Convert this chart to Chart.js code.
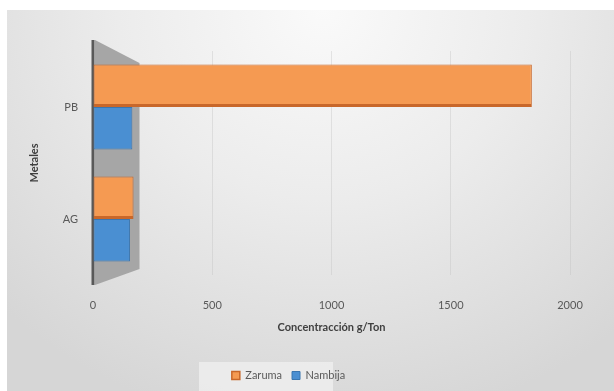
<!DOCTYPE html>
<html>
<head>
<meta charset="utf-8">
<script src="https://cdn.jsdelivr.net/npm/chart.js@4"></script>
<style>
  html, body { margin: 0; padding: 0; background: #fff; }
  #wrap {
    position: absolute; left: 7px; top: 10px; width: 607px; height: 381px;
    background: radial-gradient(ellipse 75% 110% at 52% 0%, #fafafa 0%, #ececec 45%, #d6d6d6 100%);
  }
</style>
</head>
<body>
<div id="wrap"><canvas id="chart"></canvas></div>
<script>
// Categories and series (g/Ton)
const metales = ['PB', 'AG'];
const zaruma = [1840, 170];
const nambija = [165, 155];
const xTicks = [0, 500, 1000, 1500, 2000];

// Grey side wall at the value axis, like the 3D chart
const wallPlugin = {
  id: 'wall',
  beforeDatasetsDraw(chart) {
    const { ctx, chartArea: a, scales } = chart;
    const x0 = a.left + 2;
    const x1 = scales.x.getPixelForValue(195);
    ctx.save();
    ctx.fillStyle = '#a6a6a6';
    ctx.beginPath();
    ctx.moveTo(x0, a.top - 11);
    ctx.lineTo(x1, a.top + 12);
    ctx.lineTo(x1, a.bottom - 6);
    ctx.lineTo(x0, a.bottom + 10);
    ctx.closePath();
    ctx.fill();
    ctx.strokeStyle = '#595959';
    ctx.lineWidth = 3;
    ctx.beginPath();
    ctx.moveTo(a.left, a.top - 11);
    ctx.lineTo(a.left, a.bottom + 10);
    ctx.stroke();
    ctx.restore();
  }
};

// Light box behind the legend
const legendBox = {
  id: 'legendBox',
  beforeDraw(chart) {
    const l = chart.legend;
    if (!l) return;
    const ctx = chart.ctx;
    ctx.save();
    ctx.fillStyle = 'rgba(240,240,240,0.75)';
    ctx.fillRect(192, l.top + 2, 134, chart.height - l.top - 2);
    ctx.restore();
  }
};

new Chart(document.getElementById('chart'), {
  type: 'bar',
  data: {
    labels: metales,
    datasets: [
      {
        label: 'Zaruma',
        data: zaruma,
        backgroundColor: '#f59a52',
        borderColor: '#c8672a',
        borderWidth: { top: 1, right: 1, bottom: 3, left: 1 },
        borderSkipped: false
      },
      {
        label: 'Nambija',
        data: nambija,
        backgroundColor: '#4a8fd2',
        borderColor: '#3a76b0',
        borderWidth: 1,
        borderSkipped: false
      }
    ]
  },
  options: {
    indexAxis: 'y',
    responsive: true,
    maintainAspectRatio: false,
    animation: false,
    layout: { padding: { top: 41, right: 44, left: 0, bottom: 0 } },
    datasets: {
      bar: { categoryPercentage: 0.76, barPercentage: 1.0 }
    },
    scales: {
      x: {
        min: 0,
        max: 2000,
        afterBuildTicks(s) { s.ticks = xTicks.map(v => ({ value: v })); },
        afterFit(s) { s.height = 85; },
        grid: { color: 'rgba(190,190,190,0.35)', drawTicks: false },
        border: { display: false },
        ticks: {
          color: '#595959',
          font: { family: 'Lato', size: 11 },
          padding: 24,
          callback: v => String(v)
        },
        title: {
          display: true,
          text: 'Concentracción g/Ton',
          color: '#404040',
          font: { family: 'Lato', size: 11, weight: 'bold' },
          padding: { top: 0, bottom: 26 }
        }
      },
      y: {
        afterFit(s) { s.width = 86; },
        grid: { display: false, drawTicks: false },
        border: { display: false },
        ticks: { color: '#595959', font: { family: 'Lato', size: 11 }, padding: 15 },
        title: {
          display: true,
          text: 'Metales',
          color: '#404040',
          font: { family: 'Lato', size: 11, weight: 'bold' },
          padding: { top: 21, bottom: 0 }
        }
      }
    },
    plugins: {
      legend: {
        position: 'bottom',
        labels: {
          boxWidth: 8,
          boxHeight: 8,
          color: '#595959',
          font: { family: 'Lato', size: 11 },
          padding: 10
        }
      },
      tooltip: { enabled: false }
    }
  },
  plugins: [wallPlugin, legendBox]
});
</script>
</body>
</html>
